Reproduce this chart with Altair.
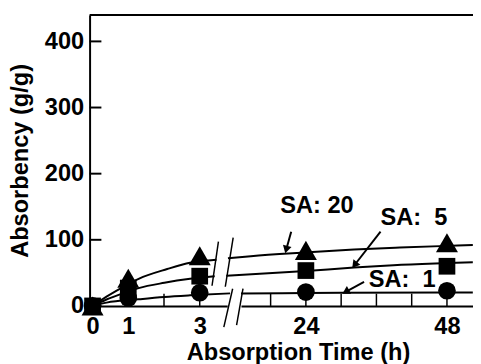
import altair as alt
import pandas as pd

FONT = "Liberation Sans"

# ---- data ----
hours = [0, 1, 3, 24, 48]
series = ["SA: 1", "SA: 5", "SA: 20"]
sa1 = [0, 12, 20, 21, 23]
sa5 = [0, 27, 45, 53.5, 60]
sa20 = [0, 42, 76, 84, 95.5]

# fitted curves, left (0-3 h) and right (24-48 h) of the axis break
sa1_fit_left_h = [0, 0.39, 1.29, 2.01, 2.73, 3.85]
sa1_fit_left_v = [0, 5, 10, 13.5, 16, 19]
sa5_fit_left_h = [0, 0.39, 0.85, 1.29, 2.01, 2.73, 3.42]
sa5_fit_left_v = [0, 9.7, 19, 27, 35, 41, 45]
sa20_fit_left_h = [0, 0.39, 0.85, 1.29, 2.09, 2.73, 3.47]
sa20_fit_left_v = [0, 14, 28.5, 41, 55.8, 65.4, 69.9]
sa1_fit_right_h = [12.96, 24, 48, 52.4]
sa1_fit_right_v = [18.8, 19.6, 20.3, 20.4]
sa5_fit_right_h = [10.45, 24, 32.2, 38.9, 48.1, 52.4]
sa5_fit_right_v = [45.5, 52.8, 58.0, 61.5, 64.8, 66.2]
sa20_fit_right_h = [10.74, 14.64, 24, 32.2, 40, 48.1, 52.4]
sa20_fit_right_v = [72, 75.2, 80.8, 85.2, 88.2, 90.8, 92.0]

y_ticks = [0, 100, 200, 300, 400]
x_labels_left = [0, 1, 3]
x_labels_right = [24, 48]
x_ticks_left = [1, 2, 3]
x_ticks_right = [18, 24, 30, 36, 42, 48]

# annotations
note_text = ["SA: 20", "SA:\u00a0 5", "SA:\u00a0 1"]
note_h = [19.65, 36.7, 34.7]
note_v = [151, 132.3, 38.7]
arrow_tail_h = [21.5, 36.7, 33.9]
arrow_tail_v = [112.3, 112.3, 36.4]
arrow_head_h = [20.66, 32.28, 30.77]
arrow_head_v = [85.4, 61.9, 21.4]
arrow_angle = [195, 218, 241]

# axis-break slashes
brk_h1 = [9.12, 11.63, 11.54, 13.30]
brk_v1 = [97.4, 103.3, 26.0, 26.0]
brk_h2 = [8.03, 10.29, 10.04, 12.21]
brk_v2 = [30.5, 29.0, -32.0, -29.0]

y_top = 440

# ---- tables ----
marks = pd.DataFrame({
    "h": hours * 3,
    "v": sa1 + sa5 + sa20,
    "s": [series[0]] * 5 + [series[1]] * 5 + [series[2]] * 5,
})
marks_left = marks[marks.h < 10]
marks_right = marks[marks.h > 10]

def fit_df(hs, vs):
    rows = []
    for s, h, v in zip(series, hs, vs):
        rows += [{"s": s, "h": a, "v": b} for a, b in zip(h, v)]
    return pd.DataFrame(rows)

fit_left = fit_df([sa1_fit_left_h, sa5_fit_left_h, sa20_fit_left_h],
                  [sa1_fit_left_v, sa5_fit_left_v, sa20_fit_left_v])
fit_right = fit_df([sa1_fit_right_h, sa5_fit_right_h, sa20_fit_right_h],
                   [sa1_fit_right_v, sa5_fit_right_v, sa20_fit_right_v])

W, H = 390, 296

yscale = alt.Scale(domain=[0, y_top], nice=False, zero=False)
yaxis = alt.Axis(values=y_ticks, title="Absorbency (g/g)", ticks=False, tickSize=0,
                 domainColor="black", domainWidth=2, labelPadding=6, titlePadding=12,
                 grid=False)
Y = alt.Y("v:Q", scale=yscale, axis=yaxis)

xl_scale = alt.Scale(domain=[-0.083, 3.77], range=[0, 140], nice=False, zero=False)
xl_axis = alt.Axis(values=x_labels_left, orient="bottom", title="Absorption Time (h)",
                   titleX=212, titleY=36, ticks=False, tickSize=0, labelPadding=9,
                   labelFlush=False, domainColor="black", domainWidth=2, grid=False)
XL = alt.X("h:Q", scale=xl_scale, axis=xl_axis)

xr_scale = alt.Scale(domain=[12.96, 52.43], range=[154, W], nice=False, zero=False)
xr_axis = alt.Axis(values=x_labels_right, orient="bottom", title=None,
                   ticks=False, tickSize=0, labelPadding=9,
                   labelFlush=False, domainColor="black", domainWidth=2, grid=False)
XR = alt.X("h:Q", scale=xr_scale, axis=xr_axis)

shapes = {"SA: 1": ("circle", 324), "SA: 5": ("square", 289), "SA: 20": ("triangle-up", 500)}

# ---- left part ----
top_border = alt.Chart(pd.DataFrame({"v": [y_top]})).mark_rule(color="black", strokeWidth=2).encode(
    y=Y, x=alt.value(0), x2=alt.value(W))
ytick_rules = alt.Chart(pd.DataFrame({"v": y_ticks})).mark_rule(color="black", strokeWidth=2).encode(
    y=Y, x=alt.value(0), x2=alt.value(12))
xtick_left = alt.Chart(pd.DataFrame({"h": x_ticks_left})).mark_rule(color="black", strokeWidth=1.5).encode(
    x=XL, y=alt.value(H), y2=alt.value(H - 12.5))
curves_left = alt.Chart(fit_left).mark_line(color="black", strokeWidth=2, interpolate="monotone").encode(
    x=XL, y=Y, detail="s:N")
pts_left = [
    alt.Chart(marks_left[marks_left.s == s]).mark_point(
        filled=True, opacity=1, color="black", shape=shp, size=sz).encode(x=XL, y=Y)
    for s, (shp, sz) in shapes.items()
]
left = alt.layer(top_border, ytick_rules, xtick_left, curves_left, *pts_left)

# ---- right part ----
xtick_right = alt.Chart(pd.DataFrame({"h": x_ticks_right})).mark_rule(color="black", strokeWidth=1.5).encode(
    x=XR, y=alt.value(H), y2=alt.value(H - 12.5))
curves_right = alt.Chart(fit_right).mark_line(color="black", strokeWidth=2, interpolate="monotone").encode(
    x=XR, y=Y, detail="s:N")
pts_right = [
    alt.Chart(marks_right[marks_right.s == s]).mark_point(
        filled=True, opacity=1, color="black", shape=shp, size=sz).encode(x=XR, y=Y)
    for s, (shp, sz) in shapes.items()
]
breaks = alt.Chart(pd.DataFrame({"h": brk_h1, "v": brk_v1, "h2": brk_h2, "v2": brk_v2})).mark_rule(
    color="black", strokeWidth=1.5).encode(x=XR, y=Y, x2="h2:Q", y2="v2:Q")
arrow_df = pd.DataFrame({"h": arrow_tail_h, "v": arrow_tail_v, "h2": arrow_head_h,
                         "v2": arrow_head_v, "a": arrow_angle})
shafts = alt.Chart(arrow_df).mark_rule(color="black", strokeWidth=2).encode(
    x=XR, y=Y, x2="h2:Q", y2="v2:Q")
heads = alt.Chart(pd.DataFrame({"h": arrow_head_h, "v": arrow_head_v, "a": arrow_angle})).mark_point(
    filled=True, opacity=1, color="black", shape="triangle-up", size=80).encode(
    x=XR, y=Y, angle=alt.Angle("a:Q", scale=None))
notes = alt.Chart(pd.DataFrame({"h": note_h, "v": note_v, "t": note_text})).mark_text(
    align="left", baseline="middle", font=FONT, fontSize=24, fontWeight="bold", color="black").encode(
    x=XR, y=Y, text="t:N")
right = alt.layer(xtick_right, curves_right, *pts_right, breaks, shafts, heads, notes)

chart = alt.layer(left, right).resolve_scale(x="independent").properties(
    width=W, height=H,
    padding={"left": 83, "top": 4, "right": 0, "bottom": 56},
    autosize=alt.AutoSizeParams(type="none"),
).configure_view(stroke=None).configure_axis(
    labelFont=FONT, titleFont=FONT, labelFontSize=24, titleFontSize=24,
    labelFontWeight="bold", titleFontWeight="bold", labelColor="black", titleColor="black",
)

chart.save("out.html", embed_options={"renderer": "svg", "actions": False})
